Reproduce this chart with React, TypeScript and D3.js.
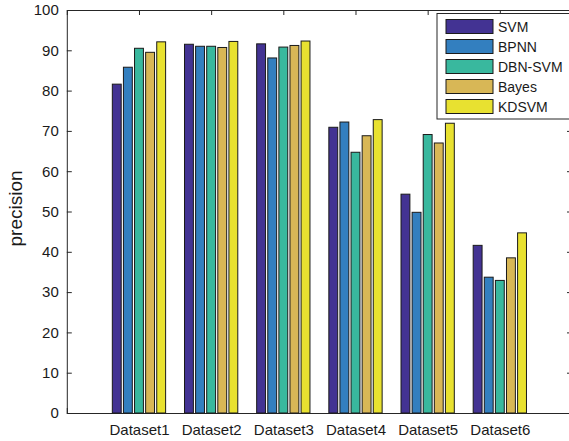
import React, { useEffect, useRef } from "react";
import * as d3 from "d3";

const datasets = ["Dataset1", "Dataset2", "Dataset3", "Dataset4", "Dataset5", "Dataset6"];
const methods = ["SVM", "BPNN", "DBN-SVM", "Bayes", "KDSVM"];
const colors = ["#433393", "#337fbf", "#39b89e", "#d8b756", "#e8e130"];

const svmValues = [81.6, 91.5, 91.6, 70.9, 54.3, 41.6];
const bpnnValues = [85.8, 91.0, 88.1, 72.2, 49.8, 33.7];
const dbnSvmValues = [90.5, 91.0, 90.8, 64.7, 69.1, 32.9];
const bayesValues = [89.5, 90.7, 91.2, 68.8, 67.0, 38.5];
const kdsvmValues = [92.1, 92.2, 92.3, 72.8, 71.9, 44.7];

const yTicks = [0, 10, 20, 30, 40, 50, 60, 70, 80, 90, 100];

export default function App() {
  const ref = useRef<SVGSVGElement>(null);

  useEffect(() => {
    const svg = d3.select(ref.current);
    svg.selectAll("*").remove();

    const left = 66.8;
    const right = 572;
    const top = 10;
    const bottom = 413;
    const font = "'Liberation Sans', Arial, sans-serif";

    const series = [svmValues, bpnnValues, dbnSvmValues, bayesValues, kdsvmValues];

    // matlab style: xlim [0, 7], categories at 1..6
    const xl = d3.scaleLinear().domain([0, 7]).range([left, right]);
    const groupWidth = 5 / 6.5;
    const x = d3.scaleBand()
      .domain(datasets)
      .range([xl(0.5), xl(6.5)])
      .paddingInner(1 - groupWidth)
      .paddingOuter((1 - groupWidth) / 2);
    const xInner = d3.scaleBand()
      .domain(methods)
      .range([0, x.bandwidth()])
      .paddingInner(0.2)
      .paddingOuter(0.1);
    const y = d3.scaleLinear().domain([0, 100]).range([bottom, top]);

    // bottom/top ticks go under the bars
    const axisBottom = svg.append("g")
      .attr("transform", `translate(0, ${bottom})`)
      .call(d3.axisBottom(xl).tickValues([1, 2, 3, 4, 5, 6]).tickSize(-5).tickPadding(11)
        .tickFormat(d => datasets[(d as number) - 1]));
    axisBottom.selectAll("text").style("font-family", font).style("font-size", "15px").style("fill", "#1a1a1a");

    svg.append("g")
      .attr("transform", `translate(0, ${top})`)
      .call(d3.axisTop(xl).tickValues([1, 2, 3, 4, 5, 6]).tickSize(-5).tickFormat(() => ""));

    // bars
    methods.forEach((m, i) => {
      svg.append("g")
        .selectAll("rect")
        .data(series[i])
        .enter()
        .append("rect")
        .attr("x", (d, j) => (x(datasets[j]) as number) + (xInner(m) as number))
        .attr("y", d => y(d))
        .attr("width", xInner.bandwidth())
        .attr("height", d => y(0) - y(d))
        .style("fill", colors[i])
        .style("stroke", "#1a1a1a")
        .style("stroke-width", 1);
    });

    const axisLeft = svg.append("g")
      .attr("transform", `translate(${left}, 0)`)
      .call(d3.axisLeft(y).tickValues(yTicks).tickSize(-5).tickPadding(8));
    axisLeft.selectAll("text").style("font-family", font).style("font-size", "15px").style("fill", "#1a1a1a");

    svg.append("g")
      .attr("transform", `translate(${right}, 0)`)
      .call(d3.axisRight(y).tickValues(yTicks).tickSize(-5).tickFormat(() => ""));

    svg.selectAll(".domain").style("stroke", "#262626");
    svg.selectAll(".tick line").style("stroke", "#262626");

    svg.append("text")
      .attr("transform", `translate(22, ${(top + bottom) / 2 - 3}) rotate(-90)`)
      .attr("text-anchor", "middle")
      .style("font-family", font)
      .style("font-size", "19px")
      .style("fill", "#1a1a1a")
      .text("precision");

    // legend
    const legend = svg.append("g").attr("transform", "translate(437, 13.5)");
    legend.append("rect")
      .attr("width", 135)
      .attr("height", 105.5)
      .style("fill", "white")
      .style("stroke", "#262626");
    methods.forEach((m, i) => {
      const row = legend.append("g").attr("transform", `translate(0, ${6 + i * 20})`);
      row.append("rect")
        .attr("x", 9)
        .attr("y", 0)
        .attr("width", 47)
        .attr("height", 14)
        .style("fill", colors[i])
        .style("stroke", "#1a1a1a");
      row.append("text")
        .attr("x", 61)
        .attr("y", 12)
        .style("font-family", font)
        .style("font-size", "14px")
        .style("fill", "#1a1a1a")
        .text(m);
    });
  }, []);

  return (
    <svg ref={ref} width={569} height={441} style={{ position: "absolute", left: 0, top: 0, background: "white" }} />
  );
}
